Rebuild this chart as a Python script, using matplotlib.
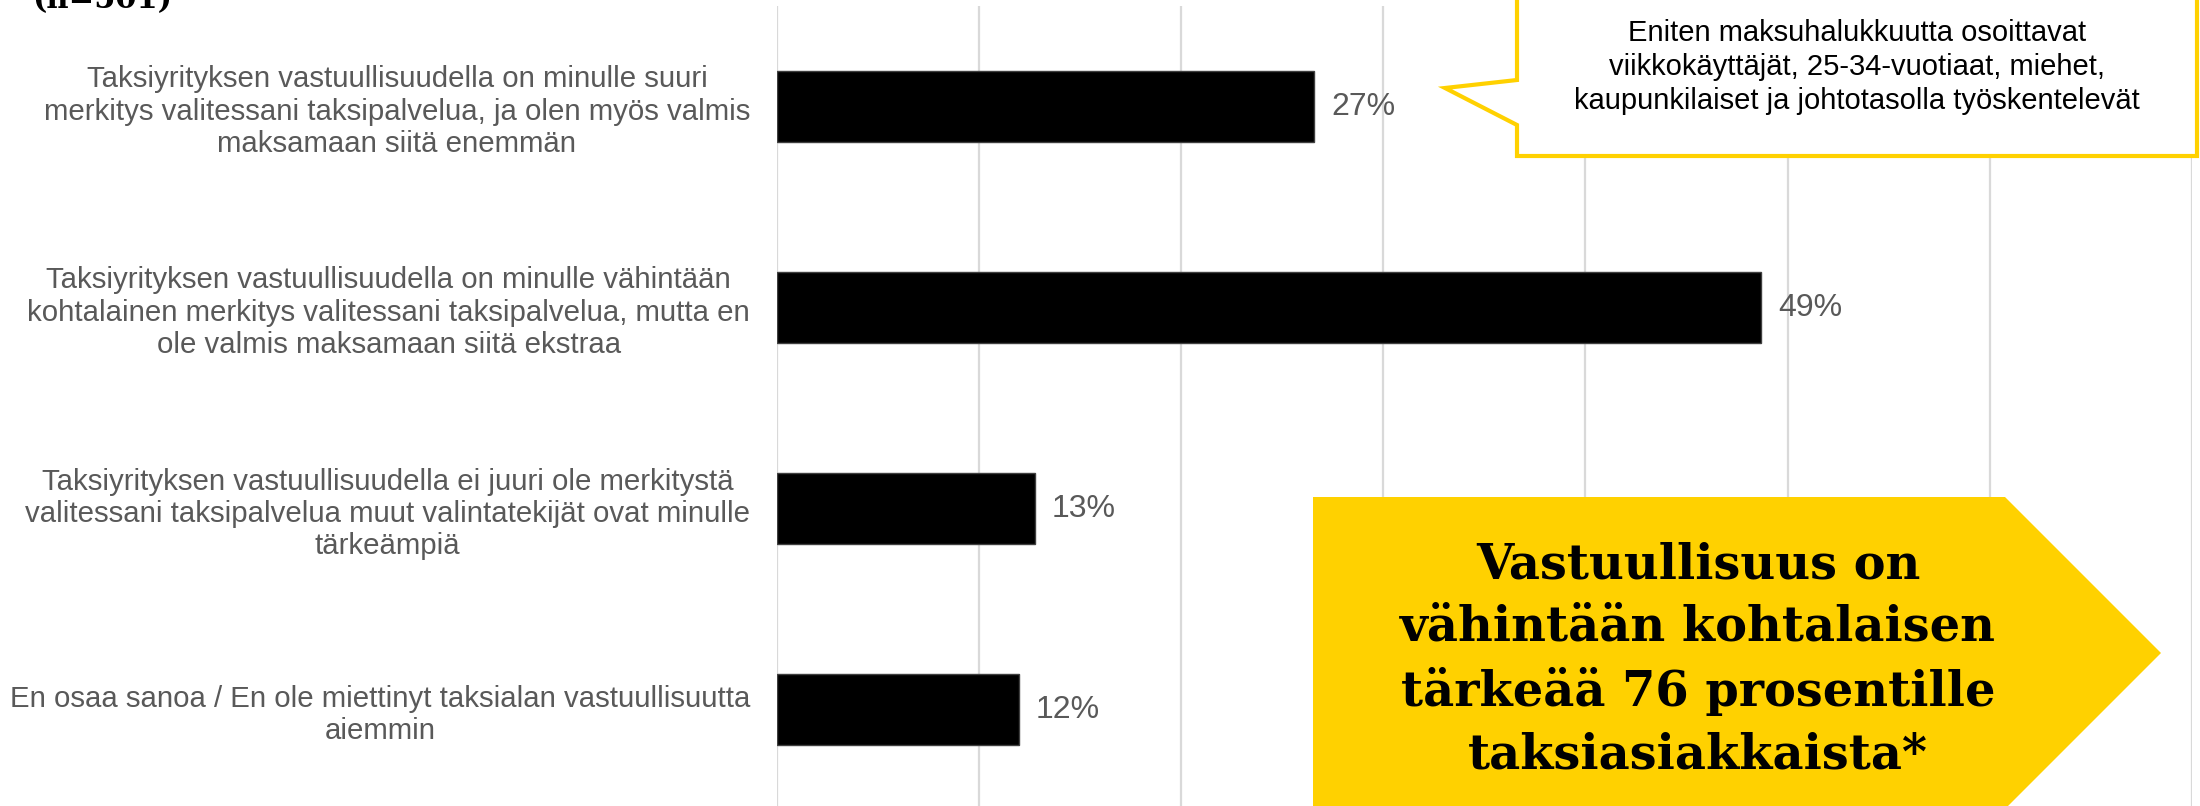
import matplotlib.pyplot as plt
from matplotlib.patches import Polygon

plt.rcParams['font.family'] = ['Liberation Sans', 'DejaVu Sans']

# Data (shares in %; labels are the rounded values)
categories = [
    'Taksiyrityksen vastuullisuudella on minulle suuri\nmerkitys valitessani taksipalvelua, ja olen myös valmis\nmaksamaan siitä enemmän',
    'Taksiyrityksen vastuullisuudella on minulle vähintään\nkohtalainen merkitys valitessani taksipalvelua, mutta en\nole valmis maksamaan siitä ekstraa',
    'Taksiyrityksen vastuullisuudella ei juuri ole merkitystä\nvalitessani taksipalvelua muut valintatekijät ovat minulle\ntärkeämpiä',
    'En osaa sanoa / En ole miettinyt taksialan vastuullisuutta\naiemmin',
]
values = [26.6, 48.7, 12.8, 12.0]
value_labels = ['27%', '49%', '13%', '12%']

title_text = '(n=501)'
callout_text = ('Eniten maksuhalukkuutta osoittavat\n'
                'viikkokäyttäjät, 25-34-vuotiaat, miehet,\n'
                'kaupunkilaiset ja johtotasolla työskentelevät')
arrow_text = ('Vastuullisuus on\nvähintään kohtalaisen\n'
              'tärkeää 76 prosentille\ntaksiasiakkaista*')

YELLOW = '#FFD100'
GREY_TEXT = '#595959'

W, H = 2200, 806
fig = plt.figure(figsize=(W / 100, H / 100), dpi=100)

# main bar chart, plot area placed in pixels
left, right, top, bottom = 776.5, 2192, 6, 810.5
ax = fig.add_axes([left / W, 1 - bottom / H, (right - left) / W, (bottom - top) / H])

y = range(len(values))
ax.barh(y, values, height=0.353, color='black', edgecolor='#404040', linewidth=1, zorder=3)
ax.set_xlim(0, 70)
ax.set_ylim(len(values) - 0.5, -0.5)
ax.set_xticks(range(0, 71, 10))
ax.xaxis.grid(True, color='#D9D9D9', linewidth=1.6)
ax.set_axisbelow(True)
ax.tick_params(axis='x', length=0, labelbottom=False)
ax.tick_params(axis='y', length=0, pad=19)
ax.set_yticks(list(y))
ax.set_yticklabels(categories, fontsize=21.2, color=GREY_TEXT, multialignment='center')
for s in ax.spines.values():
    s.set_visible(False)

for i, (v, lab) in enumerate(zip(values, value_labels)):
    ax.annotate(lab, (v, i), xytext=(12, 0), textcoords='offset points',
                ha='left', va='center', fontsize=23, color=GREY_TEXT)

# overlay in figure pixels for the callouts
ov = fig.add_axes([0, 0, 1, 1], zorder=5)
ov.set_xlim(0, W)
ov.set_ylim(H, 0)
ov.axis('off')

ov.text(32, 8, title_text, ha='left', va='baseline', fontsize=22,
        fontweight='bold', family='DejaVu Serif', color='black')

bubble = Polygon([(1517, -20), (2197, -20), (2197, 156), (1517, 156),
                  (1517, 125), (1445, 88), (1517, 80)],
                 closed=True, facecolor='white', edgecolor=YELLOW,
                 linewidth=3, joinstyle='miter')
ov.add_patch(bubble)
ov.text(1857, 67, callout_text, ha='center', va='center', fontsize=21,
        linespacing=1.28, color='black')

arrow = Polygon([(1313, 497), (2005, 497), (2161, 653), (2005, 809), (1313, 809)],
                closed=True, facecolor=YELLOW, edgecolor='none')
ov.add_patch(arrow)
ov.text(1698, 660, arrow_text, ha='center', va='center', fontsize=34.5,
        fontweight='bold', family='DejaVu Serif', linespacing=1.42, color='black')

fig.savefig('out.png', dpi=100)
